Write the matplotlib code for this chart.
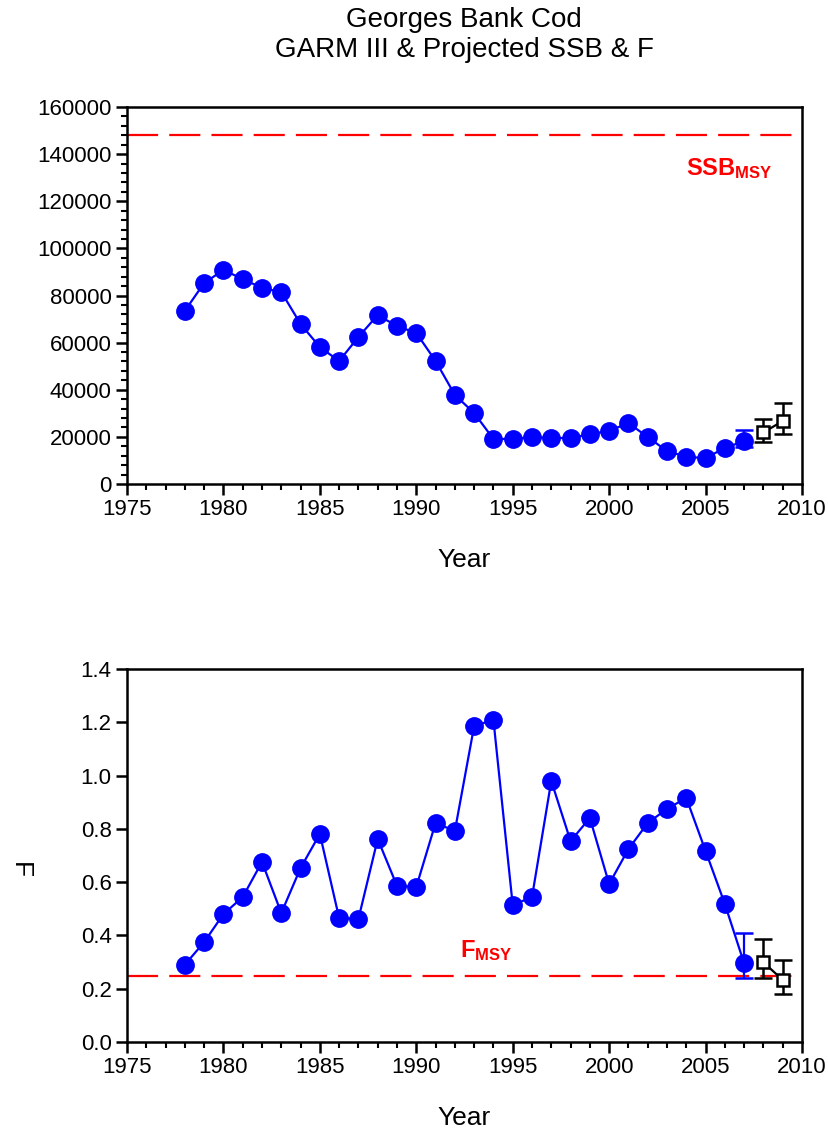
import matplotlib
matplotlib.use("Agg")
import matplotlib.pyplot as plt
from matplotlib.ticker import MultipleLocator

plt.rcParams['font.family'] = ['Liberation Sans', 'DejaVu Sans']
plt.rcParams['mathtext.fontset'] = 'custom'
plt.rcParams['mathtext.rm'] = 'Liberation Sans'
plt.rcParams['mathtext.bf'] = 'Liberation Sans:bold'

years = list(range(1978, 2008))
ssb = [73500, 85300, 90800, 87000, 83200, 81500, 67900, 58100, 52200, 62400,
       71700, 67000, 64100, 52200, 37800, 30100, 19100, 19100, 19900, 19500,
       19500, 21200, 22500, 25900, 19900, 14000, 11500, 11000, 15300, 18200]
f_vals = [0.29, 0.375, 0.48, 0.544, 0.676, 0.484, 0.653, 0.781, 0.465, 0.462,
          0.762, 0.586, 0.582, 0.822, 0.792, 1.186, 1.209, 0.514, 0.544, 0.98,
          0.754, 0.841, 0.593, 0.724, 0.822, 0.875, 0.916, 0.717, 0.518, 0.295]

ssb_2007_lo, ssb_2007_hi = 15500, 22900
f_2007_lo, f_2007_hi = 0.239, 0.408

proj_years = [2008, 2009]
proj_ssb = [21900, 26700]
proj_ssb_lo = [18000, 21200]
proj_ssb_hi = [27600, 34400]
proj_f = [0.299, 0.233]
proj_f_lo = [0.239, 0.180]
proj_f_hi = [0.386, 0.308]

ssb_msy = 148084
f_msy = 0.247

W, H = 829, 1128
fig = plt.figure(figsize=(W / 100, H / 100), dpi=100)

def px_axes(l, t, r, b):
    return fig.add_axes([l / W, 1 - b / H, (r - l) / W, (b - t) / H])

ax1 = px_axes(127, 107, 802, 484)
ax2 = px_axes(127, 669, 802, 1042)

fs = 16
blue = '#0000FF'
dash = (14, 5)

def style(ax):
    for s in ax.spines.values():
        s.set_linewidth(1.8)
    ax.set_xlim(1975, 2010)
    ax.xaxis.set_major_locator(MultipleLocator(5))
    ax.xaxis.set_minor_locator(MultipleLocator(1))
    ax.tick_params(axis='both', which='major', direction='out', length=8, width=1.8,
                   labelsize=fs, pad=3)
    ax.tick_params(axis='both', which='minor', direction='out', length=4, width=1.5)
    ax.set_xlabel('Year', fontsize=19, labelpad=20)

# ---- SSB panel
style(ax1)
ax1.set_ylim(0, 160000)
ax1.yaxis.set_major_locator(MultipleLocator(20000))
ax1.yaxis.set_minor_locator(MultipleLocator(4000))
ax1.axhline(ssb_msy, color='red', lw=1.6, dashes=dash)
ax1.plot(years, ssb, '-o', color=blue, lw=1.6, ms=12.5, zorder=3)
ax1.errorbar([2007], [ssb[-1]], yerr=[[ssb[-1] - ssb_2007_lo], [ssb_2007_hi - ssb[-1]]],
             fmt='none', ecolor=blue, elinewidth=1.6, capsize=6.5, capthick=1.8, zorder=2)
ax1.errorbar(proj_years, proj_ssb,
             yerr=[[p - l for p, l in zip(proj_ssb, proj_ssb_lo)],
                   [h - p for p, h in zip(proj_ssb, proj_ssb_hi)]],
             fmt='-s', color='black', mfc='white', mec='black', mew=1.8, ms=8.5,
             lw=1.6, ecolor='black', elinewidth=1.8, capsize=6.5, capthick=1.8, zorder=4)
ax1.text(2006.2, 134000, r'$\mathbf{SSB_{MSY}}$', color='red', fontsize=17,
         ha='center', va='center')

# ---- F panel
style(ax2)
ax2.set_ylim(0, 1.4)
ax2.yaxis.set_major_locator(MultipleLocator(0.2))
ax2.yaxis.set_major_formatter(plt.FormatStrFormatter('%.1f'))
ax2.axhline(f_msy, color='red', lw=1.6, dashes=dash)
ax2.plot(years, f_vals, '-o', color=blue, lw=1.6, ms=12.5, zorder=3)
ax2.errorbar([2007], [f_vals[-1]], yerr=[[f_vals[-1] - f_2007_lo], [f_2007_hi - f_vals[-1]]],
             fmt='none', ecolor=blue, elinewidth=1.6, capsize=6.5, capthick=1.8, zorder=2)
ax2.errorbar(proj_years, proj_f,
             yerr=[[p - l for p, l in zip(proj_f, proj_f_lo)],
                   [h - p for p, h in zip(proj_f, proj_f_hi)]],
             fmt='-s', color='black', mfc='white', mec='black', mew=1.8, ms=8.5,
             lw=1.6, ecolor='black', elinewidth=1.8, capsize=6.5, capthick=1.8, zorder=4)
ax2.text(1993.6, 0.345, r'$\mathbf{F_{MSY}}$', color='red', fontsize=17,
         ha='center', va='center')
ax2.set_ylabel('F', fontsize=19, rotation=270, va='center')
ax2.yaxis.set_label_coords(20 / (802 - 127) - 127 / (802 - 127), 0.46)

fig.text(464 / W, 1 - 35 / H, 'Georges Bank Cod\nGARM III & Projected SSB & F',
         ha='center', va='center', fontsize=20, linespacing=1.2)

fig.savefig('out.png', dpi=100)
